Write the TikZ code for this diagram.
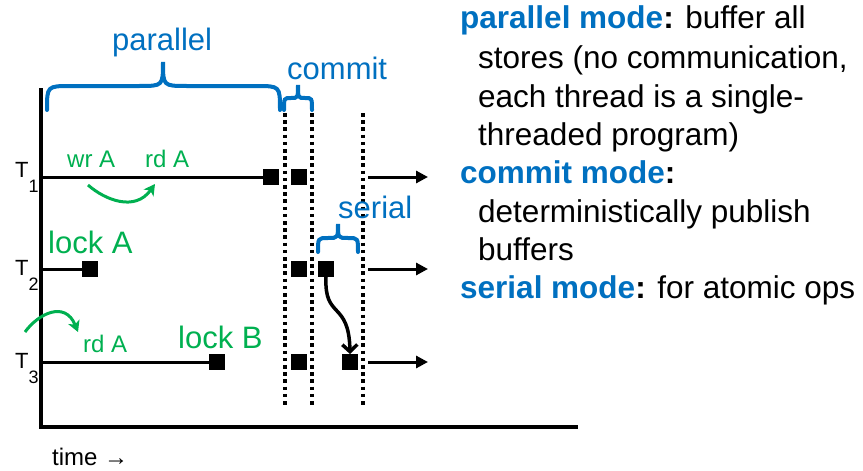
\documentclass[tikz,border=0pt]{standalone}
\usepackage{fontspec}
\setmainfont{Liberation Sans}
\usetikzlibrary{arrows.meta}
\definecolor{pblue}{HTML}{0070C0}
\definecolor{pgreen}{HTML}{00B050}
\begin{document}
\begin{tikzpicture}[x=1pt,y=-1pt,
  lbl/.style={inner sep=0pt, anchor=base west},
  big/.style={lbl, font=\fontsize{31.5}{38.5}\selectfont},
  mid/.style={lbl, font=\fontsize{24}{28}\selectfont},
  tlab/.style={lbl, font=\fontsize{22}{22}\selectfont},
  sq/.style={fill=black, minimum size=16pt, inner sep=0pt, outer sep=0pt},
  thread/.style={line width=3pt},
  axis/.style={line width=4pt},
  dots/.style={line width=4pt, dash pattern=on 3.6pt off 3.6pt},
  brc/.style={pblue, line width=4pt, line cap=round},
  garr/.style={pgreen, line width=3pt, -{Stealth[length=11pt,width=12pt,inset=3pt]}},
  tarr/.style={line width=3pt, -{Triangle[length=12pt,width=12pt]}},
  barr/.style={line width=3.5pt, -{Straight Barb[length=7pt,width=15pt]}},
]
\useasboundingbox (0,0) rectangle (863,471);

% axes
\coordinate (ytop) at (41,88);
\coordinate (xend) at (578,427);
\draw[axis] (ytop) |- (xend);

% dotted phase boundaries
\coordinate (d1t) at (285,113); \coordinate (d1b) at (285,405);
\coordinate (d2t) at (312,113); \coordinate (d2b) at (312,405);
\coordinate (d3t) at (363,113); \coordinate (d3b) at (363,405);
\draw[dots] (d1t) -- (d1b);
\draw[dots] (d2t) -- (d2b);
\draw[dots] (d3t) -- (d3b);

% squares
\node[sq] (q11) at (271,177) {};
\node[sq] (q12) at (299,177) {};
\node[sq] (q21) at (89.5,269) {};
\node[sq] (q22) at (299,269) {};
\node[sq] (q23) at (326,269) {};
\node[sq] (q31) at (217,362) {};
\node[sq] (q32) at (299,362) {};
\node[sq] (q33) at (350,362) {};

% thread lines
\coordinate (s1) at (41,177);
\coordinate (s2) at (41,269);
\coordinate (s3) at (41,362);
\draw[thread] (s1) -- (q11.west);
\draw[thread] (s2) -- (q21.west);
\draw[thread] (s3) -- (q31.west);

% outgoing arrows
\coordinate (a1s) at (368,177); \coordinate (a1e) at (428,177);
\coordinate (a2s) at (368,269); \coordinate (a2e) at (428,269);
\coordinate (a3s) at (368,362); \coordinate (a3e) at (428,362);
\draw[tarr] (a1s) -- (a1e);
\draw[tarr] (a2s) -- (a2e);
\draw[tarr] (a3s) -- (a3e);

% serial hand-off
\draw[barr] (q23.south) .. controls (324,320) and (349,300) .. (q33.north);

% thread labels
\node[tlab] (t1) at (15,177) {T\raisebox{-15pt}{\fontsize{18}{18}\selectfont 1}};
\node[tlab] (t2) at (15,275) {T\raisebox{-15pt}{\fontsize{18}{18}\selectfont 2}};
\node[tlab] (t3) at (15,368) {T\raisebox{-15pt}{\fontsize{18}{18}\selectfont 3}};

% green labels
\node[mid, pgreen] (wrA) at (67,167) {wr A};
\node[mid, pgreen] (rdA1) at (145,167) {rd A};
\node[big, pgreen, font=\fontsize{31}{31}\selectfont] (lkA) at (48,253) {lock A};
\node[big, pgreen, font=\fontsize{31}{31}\selectfont] (lkB) at (178,348) {lock B};
\node[mid, pgreen] (rdA3) at (83,352) {rd A};

% green arrows
\coordinate (g1s) at (88,185); \coordinate (g1e) at (155,184);
\draw[garr] (g1s) .. controls (105,200) and (135,212) .. (g1e);
\coordinate (g2s) at (25,332); \coordinate (g2e) at (78,332);
\draw[garr] (g2s) .. controls (38,314) and (65,300) .. (g2e);

% braces
\draw[brc] (47,110) .. controls (47,86) .. (71,86) -- (139,86)
  .. controls (163,86) .. (163,62) .. controls (163,86) .. (187,86)
  -- (256,86) .. controls (280,86) .. (280,110);
\draw[brc] (284,110) .. controls (284,98) .. (291,98)
  .. controls (298,98) .. (298,85) .. controls (298,98) .. (305,98)
  .. controls (312,98) .. (312,110);
\draw[brc] (318,252) .. controls (318,238) .. (328,238)
  .. controls (338,238) .. (338,224) .. controls (338,238) .. (348,238)
  .. controls (358,238) .. (358,252);

% phase names
\node[big, pblue, font=\fontsize{31}{31}\selectfont] (par) at (112,50) {parallel};
\node[big, pblue, font=\fontsize{31}{31}\selectfont] (com) at (287,79) {commit};
\node[big, pblue, font=\fontsize{31}{31}\selectfont] (ser) at (338,218) {serial};

% time label
\node[mid] (time) at (52,465) {time →};

% explanation text
\node[big] (l1) at (460,28) {\textbf{\textcolor{pblue}{parallel mode}:} buffer all};
\node[big] (l2) at (478,68) {stores (no communication,};
\node[big] (l3) at (478,107) {each thread is a single-};
\node[big] (l4) at (478,145) {threaded program)};
\node[big] (l5) at (460,183) {\textbf{\textcolor{pblue}{commit mode}:}};
\node[big] (l6) at (478,222) {deterministically publish};
\node[big] (l7) at (478,260) {buffers};
\node[big] (l8) at (460,298) {\textbf{\textcolor{pblue}{serial mode}:} for atomic ops};
\end{tikzpicture}
\end{document}
